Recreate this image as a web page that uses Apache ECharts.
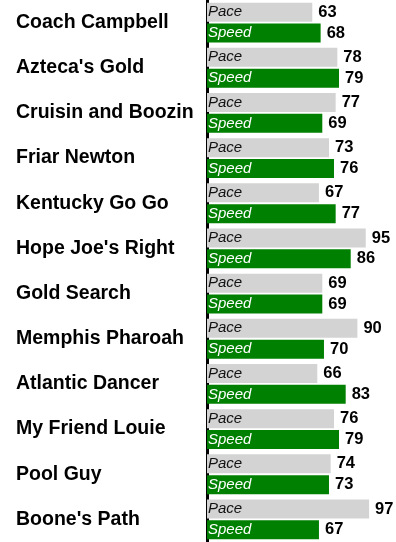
<!DOCTYPE html>
<html>
<head>
<meta charset="utf-8">
<style>
  html, body { margin: 0; padding: 0; background: #fff; }
  #chart { width: 396px; height: 542px; }
</style>
<script src="https://cdn.jsdelivr.net/npm/echarts@6/dist/echarts.min.js"></script>
</head>
<body>
<div id="chart"></div>
<script>
// Horses and their pace / speed figures
const horses = ["Coach Campbell", "Azteca's Gold", "Cruisin and Boozin", "Friar Newton",
  "Kentucky Go Go", "Hope Joe's Right", "Gold Search", "Memphis Pharoah",
  "Atlantic Dancer", "My Friend Louie", "Pool Guy", "Boone's Path"];
const pace = [63, 78, 77, 73, 67, 95, 69, 90, 66, 76, 74, 97];
const speed = [68, 79, 69, 76, 77, 86, 69, 70, 83, 79, 73, 67];

const sans = "'Liberation Sans', Arial, sans-serif";

const chart = echarts.init(document.getElementById('chart'));

// zero-length bar stacked on the end of a bar; its label carries the value
function valueTag(stack, values) {
  return {
    type: 'bar',
    stack: stack,
    data: values.map(() => 0),
    barWidth: 19,
    barGap: '10%',
    itemStyle: { color: 'transparent' },
    silent: true,
    label: {
      show: true,
      position: 'right',
      distance: 6,
      formatter: p => String(values[p.dataIndex]),
      color: '#000',
      fontFamily: sans,
      fontWeight: 'bold',
      fontSize: 16.5
    }
  };
}

chart.setOption({
  animation: false,
  grid: { left: 207, right: 21.9, top: -3, bottom: -2, containLabel: false },
  xAxis: {
    type: 'value',
    min: 0,
    max: 100,
    show: false
  },
  yAxis: {
    type: 'category',
    data: horses,
    inverse: true,
    offset: 4.5,
    axisLine: { show: true, lineStyle: { color: '#000', width: 3 } },
    axisTick: { show: false },
    axisLabel: {
      align: 'left',
      margin: 186.5,
      color: '#000',
      fontFamily: sans,
      fontWeight: 'bold',
      fontSize: 19.5
    }
  },
  series: [
    {
      name: 'Pace',
      type: 'bar',
      stack: 'pace',
      data: pace,
      barWidth: 19,
      barGap: '10%',
      itemStyle: { color: '#d3d3d3' },
      label: {
        show: true,
        position: 'insideLeft',
        distance: 1,
        formatter: '{a}',
        color: '#111',
        fontFamily: sans,
        fontStyle: 'italic',
        fontSize: 15
      }
    },
    valueTag('pace', pace),
    {
      name: 'Speed',
      type: 'bar',
      stack: 'speed',
      data: speed,
      barWidth: 19,
      barGap: '10%',
      itemStyle: { color: '#008000' },
      label: {
        show: true,
        position: 'insideLeft',
        distance: 1,
        formatter: '{a}',
        color: '#fff',
        fontFamily: sans,
        fontStyle: 'italic',
        fontSize: 15
      }
    },
    valueTag('speed', speed)
  ]
});
</script>
</body>
</html>
